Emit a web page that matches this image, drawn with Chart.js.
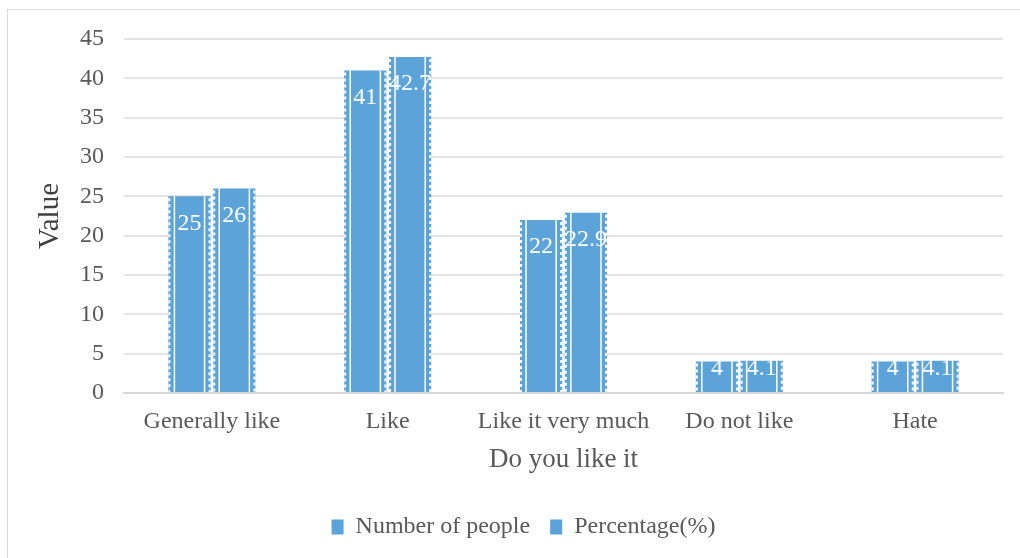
<!DOCTYPE html>
<html>
<head>
<meta charset="utf-8">
<script src="https://cdn.jsdelivr.net/npm/chart.js@4/dist/chart.umd.min.js"></script>
<style>
  html, body { margin: 0; padding: 0; background: #fff; }
  #wrap { position: relative; width: 1020px; height: 558px; overflow: hidden; }
  #frame { position: absolute; left: 7px; top: 9px; width: 1100px; height: 700px; border: 1px solid #d9d9d9; }
  #c { position: absolute; left: 0; top: 0; }
</style>
</head>
<body>
<div id="wrap">
  <div id="frame"></div>
  <canvas id="c" width="1020" height="558"></canvas>
</div>
<script>
var categories = ["Generally like", "Like", "Like it very much", "Do not like", "Hate"];
var peopleCount = [25, 41, 22, 4, 4];
var percentage = [26, 42.7, 22.9, 4.1, 4.1];
var seriesNames = ["Number of people", "Percentage(%)"];

var barBlue = "#5ba3d9";
var fontFam = "'Liberation Serif', 'Times New Roman', serif";

// white stripes + scalloped edges + value labels inside the bars
var barDeco = {
    id: "barDeco",
    afterDatasetsDraw: function (chart) {
        var ctx = chart.ctx;
        ctx.save();
        chart.data.datasets.forEach(function (ds, di) {
            var meta = chart.getDatasetMeta(di);
            meta.data.forEach(function (bar, i) {
                var left = bar.x - bar.width / 2;
                var right = bar.x + bar.width / 2;
                var top = bar.y;
                var bottom = bar.base;
                ctx.strokeStyle = "#ffffff";
                ctx.lineWidth = 1.5;
                ctx.beginPath();
                ctx.moveTo(left + 6, top);
                ctx.lineTo(left + 6, bottom);
                ctx.moveTo(right - 6, top);
                ctx.lineTo(right - 6, bottom);
                ctx.stroke();
                ctx.lineWidth = 2;
                ctx.setLineDash([3, 3]);
                ctx.beginPath();
                ctx.moveTo(left + 1, top + 2);
                ctx.lineTo(left + 1, bottom);
                ctx.moveTo(right - 1, top + 2);
                ctx.lineTo(right - 1, bottom);
                ctx.stroke();
                ctx.setLineDash([]);
                ctx.fillStyle = "#ffffff";
                ctx.font = "24px " + fontFam;
                ctx.textAlign = "center";
                ctx.textBaseline = "middle";
                // short bars: keep the label near the top like the original
                var dy = Math.min(27, (bottom - top) * 0.25);
                ctx.fillText(String(ds.data[i]), bar.x, top + dy);
            });
        });
        ctx.restore();
    }
};

new Chart(document.getElementById("c"), {
    type: "bar",
    data: {
        labels: categories,
        datasets: [
            { label: seriesNames[0], data: peopleCount, backgroundColor: barBlue },
            { label: seriesNames[1], data: percentage, backgroundColor: barBlue }
        ]
    },
    options: {
        responsive: false,
        animation: false,
        layout: { padding: { left: 44, right: 17, top: 39, bottom: 9 } },
        datasets: { bar: { categoryPercentage: 0.51, barPercentage: 0.94 } },
        plugins: {
            legend: {
                position: "bottom",
                labels: {
                    font: { family: fontFam, size: 24 },
                    color: "#595959",
                    boxWidth: 12,
                    boxHeight: 15,
                    padding: 20
                }
            },
            tooltip: { enabled: false }
        },
        scales: {
            x: {
                grid: { display: false },
                border: { color: "#d9d9d9", width: 2 },
                ticks: { font: { family: fontFam, size: 24 }, color: "#595959", padding: 6, maxRotation: 0, minRotation: 0, autoSkip: false },
                title: { display: true, text: "Do you like it", font: { family: fontFam, size: 27 }, color: "#595959", padding: { top: 4, bottom: 19 } },
                afterFit: function (scale) { scale.height = 102; }
            },
            y: {
                min: 0,
                max: 45,
                ticks: { stepSize: 5, font: { family: fontFam, size: 24 }, color: "#595959", padding: 20 },
                grid: { color: "#e4e4e4", lineWidth: 2, drawTicks: false },
                border: { display: false },
                title: { display: true, text: "Value", font: { family: fontFam, size: 29 }, color: "#404040", padding: { top: -11, bottom: 0 } },
                afterFit: function (scale) { scale.width = 80; }
            }
        }
    },
    plugins: [barDeco]
});
</script>
</body>
</html>
